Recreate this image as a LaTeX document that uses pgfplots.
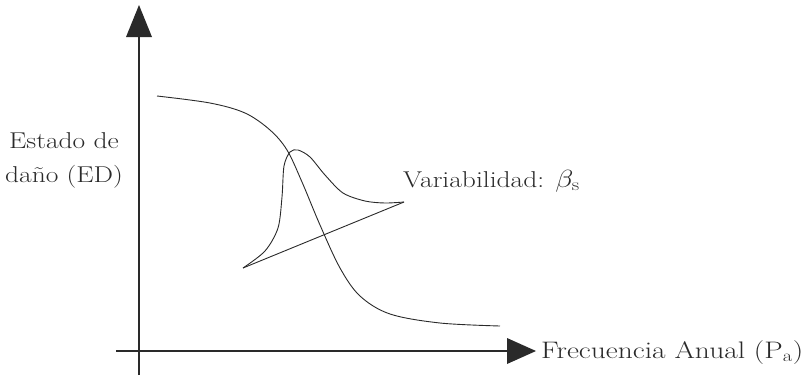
\documentclass[border=0pt]{standalone}
\usepackage{pgfplots}
\usepackage{graphicx}
\pgfplotsset{compat=1.18}
\definecolor{ink}{HTML}{2A2A2A}
\newcommand{\wide}[1]{\scalebox{1.2}[1]{#1}}
\begin{document}
\begin{tikzpicture}
\begin{axis}[
  x=1bp, y=1bp, scale only axis,
  xmin=0, xmax=809, ymin=0, ymax=375, y dir=reverse,
  hide axis, clip=false,
]
\addplot[draw=none] coordinates {(0,0) (809,375)};
% axes
\draw[ink, line width=1.1bp] (axis cs:139,375) -- (axis cs:139,37);
\fill[ink] (axis cs:126,37) -- (axis cs:152,37) -- (axis cs:139,5) -- cycle;
\draw[ink, line width=1.1bp] (axis cs:116,351) -- (axis cs:507,351);
\fill[ink] (axis cs:507,338) -- (axis cs:507,364) -- (axis cs:536,351) -- cycle;
% sigmoid curve
\addplot[ink, line width=0.9bp, smooth, tension=0.55] coordinates {
(157,96) (210,103) (245,113) (270,130) (287,150) (302,182) (320,225) (340,268) (360,296)
(390,314) (440,323) (500,326)
};
% distribution
\addplot[ink, line width=0.9bp, smooth, tension=0.5] coordinates {
(243,268) (265,251) (278,228) (282,197) (284,166) (290,152) (298,150) (310,157)
(325,175) (343,193) (365,201) (385,203) (404,202)
};
\addplot[ink, line width=0.9bp] coordinates {(404,202) (243,268)};
% labels
\node[anchor=base, inner sep=0pt, font=\fontsize{23}{40}\selectfont, text=ink] at (axis cs:64,148) {\wide{Estado de}};
\node[anchor=base, inner sep=0pt, font=\fontsize{23}{40}\selectfont, text=ink] at (axis cs:64,182) {\wide{da\~no (ED)}};
\node[anchor=base west, inner sep=0pt, font=\fontsize{23}{26}\selectfont, text=ink] at (axis cs:403,187) {\wide{Variabilidad: $\beta_{\mathrm{s}}$}};
\node[anchor=base west, inner sep=0pt, font=\fontsize{24}{26}\selectfont, text=ink] at (axis cs:541,358) {\scalebox{1.23}[1]{Frecuencia Anual (P\textsubscript{a})}};
\end{axis}
\end{tikzpicture}
\end{document}
